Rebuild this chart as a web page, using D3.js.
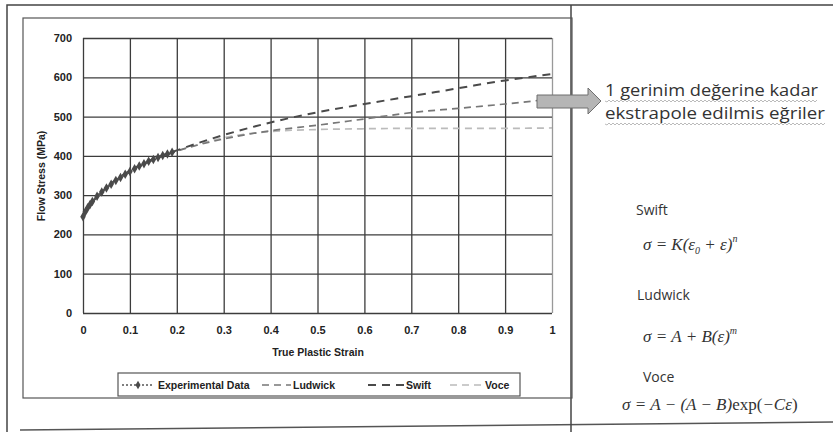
<!DOCTYPE html>
<html>
<head>
<meta charset="utf-8">
<script src="https://cdn.jsdelivr.net/npm/d3@7"></script>
<style>
	body { margin: 0; background: #fff; }
	svg { display: block; }
	.tick text { font-family: "Liberation Sans", Arial, sans-serif; font-weight: bold; font-size: 11px; fill: #222; }
	.lbl { font-family: "Liberation Sans", Arial, sans-serif; font-weight: bold; font-size: 10.5px; fill: #222; }
	.note { font-family: "Open Sans", Lato, sans-serif; fill: #333; }
	.eq { font-family: "Liberation Serif", "DejaVu Serif", serif; font-style: italic; font-size: 17px; fill: #333; }
	.up { font-style: normal; }
</style>
</head>
<body>
<svg id="viz"></svg>
<script>

	// the data
	var xTicks = [0, 0.1, 0.2, 0.3, 0.4, 0.5, 0.6, 0.7, 0.8, 0.9, 1];
	var yTicks = [0, 100, 200, 300, 400, 500, 600, 700];

	var expStrain = [0, 0.005, 0.01, 0.015, 0.02, 0.03, 0.04, 0.05, 0.06, 0.07, 0.08, 0.09, 0.1, 0.11, 0.12, 0.13, 0.14, 0.15, 0.16, 0.17, 0.18, 0.19];
	var expStress = [245, 258, 268, 276, 284, 297, 308, 318, 328, 337, 345, 353, 360, 367, 374, 380, 386, 391, 396, 401, 405, 409];

	var fitStrain = [0, 0.02, 0.05, 0.1, 0.15, 0.2, 0.3, 0.4, 0.5, 0.6, 0.7, 0.8, 0.9, 1];
	var swift     = [250, 282, 320, 362, 392, 414, 453, 485, 511, 532, 552, 572, 592, 608];
	var ludwick   = [245, 280, 318, 360, 390, 412, 443, 464, 478, 494, 510, 521, 532, 545];
	var voce      = [245, 282, 320, 360, 392, 412, 446, 462, 467, 469, 470, 470, 470, 471];

	var legendNames = ["Experimental Data", "Ludwick", "Swift", "Voce"];

	// set up the svg
	var w = 833;
	var h = 432;
	var viz = d3.select("#viz").attr("width", w).attr("height", h);

	// frames
	viz.append("path").attr("d", "M7,432 L7,5 L833,5").attr("fill", "none").attr("stroke", "#444").attr("stroke-width", 1.5);
	viz.append("line").attr("x1", 20).attr("x2", 833).attr("y1", 430).attr("y2", 422).attr("stroke", "#555").attr("stroke-width", 1.5);
	viz.append("line").attr("x1", 571).attr("x2", 571).attr("y1", 5).attr("y2", 432).attr("stroke", "#444").attr("stroke-width", 1.5);
	viz.append("rect").attr("x", 23).attr("y", 18).attr("width", 549).attr("height", 380)
		.attr("fill", "none").attr("stroke", "#555").attr("stroke-width", 1.2);

	// scales
	var x = d3.scaleLinear().domain([0, 1]).range([83, 552]);
	var y = d3.scaleLinear().domain([0, 700]).range([313, 38]);

	// grid + axes
	var xAxis = viz.append("g").attr("transform", "translate(0,313)")
		.call(d3.axisBottom(x).tickValues(xTicks).tickSize(-275).tickPadding(13)
			.tickFormat(function(d) { return d === 0 || d === 1 ? d : d3.format(".1f")(d); }));
	var yAxis = viz.append("g").attr("transform", "translate(83,0)")
		.call(d3.axisLeft(y).tickValues(yTicks).tickSize(-469).tickPadding(11));
	[xAxis, yAxis].forEach(function(g) {
		g.select(".domain").remove();
		g.selectAll(".tick line").attr("stroke", "#3c3c3c").attr("stroke-width", 1.3);
	});
	xAxis.select(".tick:last-of-type line").attr("stroke", "#999");

	// axis titles
	viz.append("text").attr("class", "lbl").attr("x", 318).attr("y", 356).attr("text-anchor", "middle").text("True Plastic Strain");
	viz.append("text").attr("class", "lbl").attr("transform", "translate(45,176) rotate(-90)").attr("text-anchor", "middle").text("Flow Stress (MPa)");

	// fitted curves
	var line = d3.line()
		.x(function(d, i) { return x(fitStrain[i]); })
		.y(function(d) { return y(d); })
		.curve(d3.curveMonotoneX);

	viz.append("path").datum(voce).attr("d", line).attr("fill", "none")
		.attr("stroke", "#bbb").attr("stroke-width", 1.7).attr("stroke-dasharray", "7,5");
	viz.append("path").datum(ludwick).attr("d", line).attr("fill", "none")
		.attr("stroke", "#777").attr("stroke-width", 1.7).attr("stroke-dasharray", "7,5");
	viz.append("path").datum(swift).attr("d", line).attr("fill", "none")
		.attr("stroke", "#4a4a4a").attr("stroke-width", 2).attr("stroke-dasharray", "8,6");

	// experimental data
	var expLine = d3.line()
		.x(function(d, i) { return x(expStrain[i]); })
		.y(function(d) { return y(d); });
	viz.append("path").datum(expStress).attr("d", expLine).attr("fill", "none")
		.attr("stroke", "#555").attr("stroke-width", 2.5).attr("stroke-dasharray", "2,1");
	viz.selectAll("path.mark")
		.data(expStress)
		.enter()
		.append("path")
		.attr("class", "mark")
		.attr("d", d3.symbol().type(d3.symbolDiamond).size(26))
		.attr("transform", function(d, i) { return "translate(" + x(expStrain[i]) + "," + y(d) + ")"; })
		.attr("fill", "#4a4a4a");

	// legend
	var lg = viz.append("g");
	lg.append("rect").attr("x", 118).attr("y", 373).attr("width", 402).attr("height", 23)
		.attr("fill", "#fff").attr("stroke", "#555").attr("stroke-width", 1.2);
	var lgY = 385;
	var lgItems = [
		{x1: 122, x2: 153, tx: 158, stroke: "#555", dash: "2,2", wd: 1.5},
		{x1: 262, x2: 291, tx: 293, stroke: "#777", dash: "7,5", wd: 1.7},
		{x1: 368, x2: 405, tx: 406, stroke: "#4a4a4a", dash: "8,6", wd: 2},
		{x1: 450, x2: 482, tx: 485, stroke: "#bbb", dash: "7,5", wd: 1.7}
	];
	lgItems.forEach(function(d, i) {
		lg.append("line").attr("x1", d.x1).attr("x2", d.x2).attr("y1", lgY).attr("y2", lgY)
			.attr("stroke", d.stroke).attr("stroke-width", d.wd).attr("stroke-dasharray", d.dash);
		lg.append("text").attr("class", "lbl").attr("x", d.tx).attr("y", lgY + 4).text(legendNames[i]);
	});
	lg.append("path").attr("d", d3.symbol().type(d3.symbolDiamond).size(22))
		.attr("transform", "translate(138," + lgY + ")").attr("fill", "#4a4a4a");

	// arrow
	viz.append("path")
		.attr("d", "M537,95 L588,95 L588,88 L601,101 L588,114 L588,108 L537,108 Z")
		.attr("fill", "#b5b5b5").attr("stroke", "#6f6f6f").attr("stroke-width", 1);

	// note text with wavy underline
	var note = [["1 gerinim değerine kadar", 96, 213], ["ekstrapole edilmis eğriler", 119, 220]];
	note.forEach(function(n) {
		viz.append("text").attr("class", "note").attr("x", 605).attr("y", n[1])
			.attr("font-size", "17px").attr("textLength", n[2]).attr("lengthAdjust", "spacingAndGlyphs").text(n[0]);
		var wave = "M605," + (n[1] + 5);
		for (var k = 607; k <= 605 + n[2]; k += 2) {
			wave += " L" + k + "," + (n[1] + (k % 4 === 1 ? 4 : 6));
		}
		viz.append("path").attr("d", wave).attr("fill", "none").attr("stroke", "#aaa").attr("stroke-width", 0.8);
	});

	// model names and equations
	var labels = [["Swift", 636, 215], ["Ludwick", 637, 300], ["Voce", 643, 382]];
	labels.forEach(function(l) {
		viz.append("text").attr("class", "note").attr("font-size", "14px").attr("x", l[1]).attr("y", l[2]).text(l[0]);
	});

	var eq1 = viz.append("text").attr("class", "eq").attr("x", 643).attr("y", 250);
	eq1.append("tspan").text("σ = K(ε");
	eq1.append("tspan").attr("font-size", "10px").attr("dy", 4).text("0");
	eq1.append("tspan").attr("dy", -4).text(" + ε)");
	eq1.append("tspan").attr("font-size", "10px").attr("dy", -8).text("n");

	var eq2 = viz.append("text").attr("class", "eq").attr("x", 643).attr("y", 342);
	eq2.append("tspan").text("σ = A + B(ε)");
	eq2.append("tspan").attr("font-size", "10px").attr("dy", -8).text("m");

	var eq3 = viz.append("text").attr("class", "eq").attr("x", 622).attr("y", 410);
	eq3.append("tspan").text("σ = A − (A − B)");
	eq3.append("tspan").attr("class", "up").text("exp(");
	eq3.append("tspan").text("−Cε");
	eq3.append("tspan").attr("class", "up").text(")");

</script>
</body>
</html>
